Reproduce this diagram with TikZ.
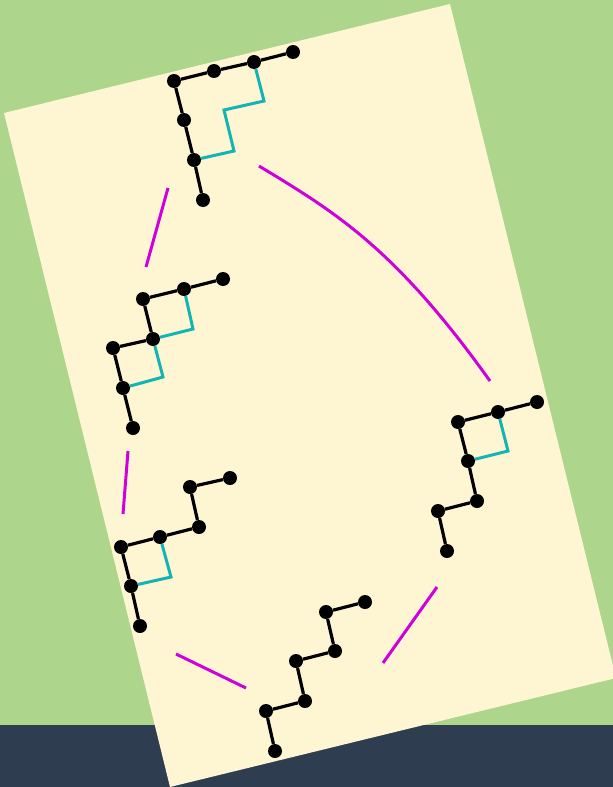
\documentclass[tikz,border=0pt]{standalone}
\definecolor{bggreen}{HTML}{AED58C}
\definecolor{navy}{HTML}{2E3E50}
\definecolor{cream}{HTML}{FEF6D3}
\definecolor{bondcyan}{HTML}{12B4B4}
\definecolor{linkmag}{HTML}{D000D8}
\begin{document}
\begin{tikzpicture}[x=1pt,y=-1pt,
  atom/.style={circle,fill=black,inner sep=0pt,minimum size=14pt},
  bond/.style={line width=3.2pt,black},
  ring/.style={line width=3pt,bondcyan},
  link/.style={line width=3pt,linkmag}]
\useasboundingbox (0,0) rectangle (613,787);
\begin{scope}
\clip (0,0) rectangle (613,787);
\fill[bggreen] (0,0) rectangle (613,787);
\fill[navy] (0,725) rectangle (613,787);
\fill[cream] (4,113) -- (450,4) -- (616,678) -- (170,787) -- cycle;
\end{scope}
% molecule A
\node[atom] (A1) at (174,81) {};
\node[atom] (A2) at (214,71) {};
\node[atom] (A3) at (254,62) {};
\node[atom] (A4) at (293,52) {};
\node[atom] (A5) at (184,120) {};
\node[atom] (A6) at (194,160) {};
\node[atom] (A7) at (203,200) {};
\coordinate (a1) at (264,101);
\coordinate (a2) at (224,110);
\coordinate (a3) at (234,151);
\draw[bond] (A1) -- (A2);
\draw[bond] (A2) -- (A3);
\draw[bond] (A3) -- (A4);
\draw[bond] (A1) -- (A5);
\draw[bond] (A5) -- (A6);
\draw[bond] (A6) -- (A7);
\draw[ring] (A3) -- (a1) -- (a2) -- (a3) -- (A6);
% molecule B
\node[atom] (B1) at (143,299) {};
\node[atom] (B2) at (184,289) {};
\node[atom] (B3) at (223,279) {};
\node[atom] (B4) at (153,339) {};
\node[atom] (B5) at (113,348) {};
\node[atom] (B6) at (123,388) {};
\node[atom] (B7) at (133,428) {};
\coordinate (b1) at (193,329);
\coordinate (b2) at (163,377);
\draw[bond] (B1) -- (B2);
\draw[bond] (B2) -- (B3);
\draw[bond] (B1) -- (B4);
\draw[bond] (B4) -- (B5);
\draw[bond] (B5) -- (B6);
\draw[bond] (B6) -- (B7);
\draw[ring] (B2) -- (b1) -- (B4);
\draw[ring] (B4) -- (b2) -- (B6);
% molecule C
\node[atom] (C1) at (230,478) {};
\node[atom] (C2) at (190,487) {};
\node[atom] (C3) at (199,527) {};
\node[atom] (C4) at (160,537) {};
\node[atom] (C5) at (121,547) {};
\node[atom] (C6) at (131,586) {};
\node[atom] (C7) at (140,626) {};
\coordinate (c1) at (171,577);
\draw[bond] (C1) -- (C2);
\draw[bond] (C2) -- (C3);
\draw[bond] (C3) -- (C4);
\draw[bond] (C4) -- (C5);
\draw[bond] (C5) -- (C6);
\draw[bond] (C6) -- (C7);
\draw[ring] (C4) -- (c1) -- (C6);
% molecule D
\node[atom] (D1) at (537,402) {};
\node[atom] (D2) at (498,412) {};
\node[atom] (D3) at (458,422) {};
\node[atom] (D4) at (468,461) {};
\node[atom] (D5) at (477,501) {};
\node[atom] (D6) at (438,511) {};
\node[atom] (D7) at (447,551) {};
\coordinate (d1) at (508,451);
\draw[bond] (D1) -- (D2);
\draw[bond] (D2) -- (D3);
\draw[bond] (D3) -- (D4);
\draw[bond] (D4) -- (D5);
\draw[bond] (D5) -- (D6);
\draw[bond] (D6) -- (D7);
\draw[ring] (D2) -- (d1) -- (D4);
% molecule E
\node[atom] (E1) at (365,602) {};
\node[atom] (E2) at (326,612) {};
\node[atom] (E3) at (335,651) {};
\node[atom] (E4) at (296,661) {};
\node[atom] (E5) at (305,701) {};
\node[atom] (E6) at (266,711) {};
\node[atom] (E7) at (275,751) {};
\draw[bond] (E1) -- (E2);
\draw[bond] (E2) -- (E3);
\draw[bond] (E3) -- (E4);
\draw[bond] (E4) -- (E5);
\draw[bond] (E5) -- (E6);
\draw[bond] (E6) -- (E7);
% links
\coordinate (l1s) at (168,188);
\coordinate (l1e) at (146,267);
\coordinate (l2s) at (259,166);
\coordinate (l2e) at (490,381);
\coordinate (l3s) at (128,451);
\coordinate (l3e) at (123,514);
\coordinate (l4s) at (176,654);
\coordinate (l4e) at (246,688);
\coordinate (l5s) at (437,587);
\coordinate (l5e) at (383,663);
\draw[link] (l1s) -- (l1e);
\draw[link] (l2s) .. controls (335,212) and (395,248) .. (l2e);
\draw[link] (l3s) -- (l3e);
\draw[link] (l4s) -- (l4e);
\draw[link] (l5s) -- (l5e);
\end{tikzpicture}
\end{document}
